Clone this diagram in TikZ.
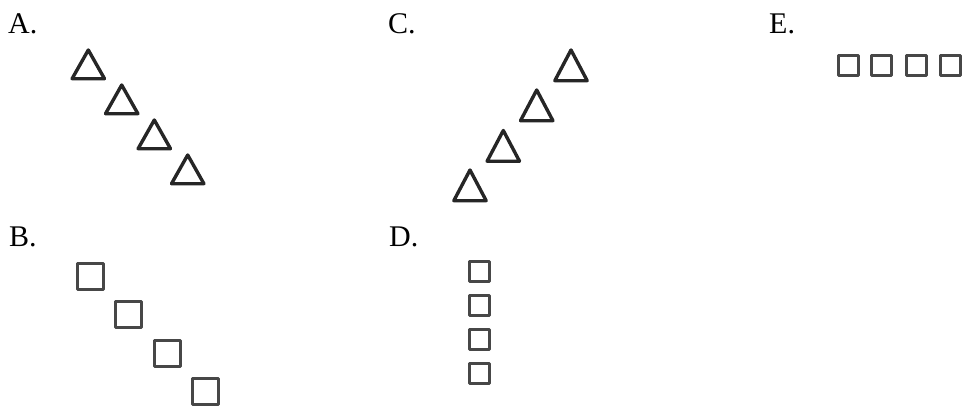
\documentclass[tikz,border=0pt]{standalone}
\usepackage{fontspec}
\setmainfont{Liberation Serif}
\begin{document}
\begin{tikzpicture}[x=1pt,y=-1pt,
  lab/.style={anchor=base west,inner sep=0pt,font=\fontsize{30}{36}\selectfont},
  tri/.style={draw=black!85,line width=3.4pt,line join=round},
  sq/.style={draw=black!72,line width=3pt,line join=round}]
\useasboundingbox (0,0) rectangle (965,405);
% labels
\node[lab] (la) at (8,33) {A.};
\node[lab] (lc) at (388,33) {C.};
\node[lab] (le) at (769,33) {E.};
\node[lab] (lb) at (9,246) {B.};
\node[lab] (ld) at (389,246) {D.};
% A triangles
\foreach \x/\y in {88.3/50,121.7/85,154.3/120,187.7/155}
  \draw[tri] (\x,\y) -- ++(16.2,28.7) -- ++(-32.4,0) -- cycle;
% C triangles
\foreach \x/\y in {571/50,536.7/90,503.3/130.5,470/170}
  \draw[tri] (\x,\y) -- ++(16.2,30.7) -- ++(-32.4,0) -- cycle;
% B squares
\foreach \x/\y in {90/276.7,128.7/314.5,167/353,205/391}
  \draw[sq] (\x-13,\y-13) rectangle (\x+13,\y+13);
% D squares
\foreach \y in {271.3,305.3,339.5,373}
  \draw[sq] (479-10,\y-10) rectangle (479+10,\y+10);
% E squares
\foreach \x in {848,881.7,916,950.3}
  \draw[sq] (\x-10,65-10) rectangle (\x+10,65+10);
\end{tikzpicture}
\end{document}
